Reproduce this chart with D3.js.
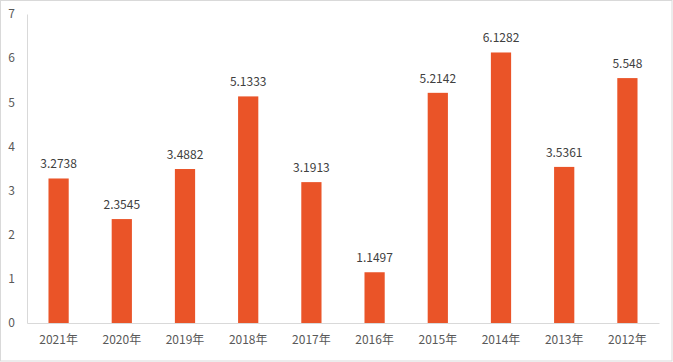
<!DOCTYPE html>
<html>
<head>
<meta charset="utf-8">
<script src="https://cdn.jsdelivr.net/npm/d3@7"></script>
<style>
  body { margin: 0; background: #fff; }
  svg text { font-family: "Noto Sans CJK SC", "Noto Sans", sans-serif; }
</style>
</head>
<body>
<div id="vis"></div>
<script>
const years = ["2021年", "2020年", "2019年", "2018年", "2017年", "2016年", "2015年", "2014年", "2013年", "2012年"];
const values = [3.2738, 2.3545, 3.4882, 5.1333, 3.1913, 1.1497, 5.2142, 6.1282, 3.5361, 5.548];
const labels = ["3.2738", "2.3545", "3.4882", "5.1333", "3.1913", "1.1497", "5.2142", "6.1282", "3.5361", "5.548"];
const yTicks = [0, 1, 2, 3, 4, 5, 6, 7];

const W = 673, H = 362;
const plotL = 27, plotR = 659, plotT = 14, plotB = 323;

const svg = d3.select("#vis").append("svg")
    .attr("width", W)
    .attr("height", H);

// outer frame
svg.append("rect")
    .attr("x", 0.5).attr("y", 0.5)
    .attr("width", W - 1.5).attr("height", H - 1.5)
    .attr("fill", "#fff")
    .attr("stroke", "#d9d9d9");

const x = d3.scaleBand()
    .domain(years)
    .range([plotL, plotR])
    .paddingInner(0.68)
    .paddingOuter(0.34);

const y = d3.scaleLinear()
    .domain([0, 7])
    .range([plotB, plotT]);

const data = years.map((d, i) => ({ year: d, value: values[i], label: labels[i] }));

// y axis
const yAxis = svg.append("g")
    .attr("transform", `translate(${plotL},0)`)
    .call(d3.axisLeft(y).tickValues(yTicks).tickFormat(d3.format("d")).tickSize(0).tickPadding(12));
yAxis.select(".domain").attr("stroke", "#d9d9d9");
yAxis.selectAll("text")
    .attr("fill", "#595959")
    .style("font-size", "12px");

// x axis
const xAxis = svg.append("g")
    .attr("transform", `translate(0,${plotB})`)
    .call(d3.axisBottom(x).tickSize(0).tickPadding(12));
xAxis.select(".domain").attr("stroke", "#d9d9d9");
xAxis.selectAll("text")
    .attr("fill", "#595959")
    .style("font-size", "12px");

// bars
svg.selectAll("rect.bar")
    .data(data)
    .enter()
    .append("rect")
    .classed("bar", true)
    .attr("x", d => x(d.year))
    .attr("y", d => y(d.value))
    .attr("width", x.bandwidth())
    .attr("height", d => plotB - y(d.value))
    .attr("fill", "#EA5428");

// value labels
svg.selectAll("text.val")
    .data(data)
    .enter()
    .append("text")
    .classed("val", true)
    .attr("x", d => x(d.year) + x.bandwidth() / 2)
    .attr("y", d => y(d.value) - 10)
    .attr("text-anchor", "middle")
    .attr("fill", "#404040")
    .style("font-size", "12px")
    .text(d => d.label);
</script>
</body>
</html>
